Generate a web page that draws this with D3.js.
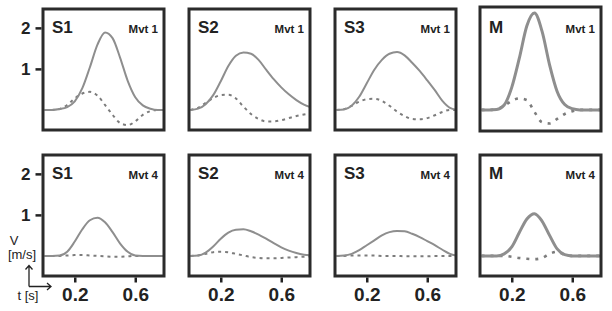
<!DOCTYPE html>
<html>
<head>
<meta charset="utf-8">
<script src="https://cdn.jsdelivr.net/npm/d3@7"></script>
<style>
body { margin: 0; background: #fff; }
svg text { font-family: "Liberation Sans", Arial, Helvetica, sans-serif; }
</style>
</head>
<body>
<div id="chart"></div>
<script>
// sample times (s)
var times = [0, 0.05, 0.1, 0.15, 0.2, 0.25, 0.3, 0.35, 0.4, 0.45, 0.5, 0.55, 0.6, 0.65, 0.7, 0.75, 0.8];
var subjects = ["S1", "S2", "S3", "M"];
var movements = ["Mvt 1", "Mvt 4"];
var yTicks = [1, 2];
var xTicks = [0.2, 0.6];

// Mvt 1 : speed (solid) and dashed trace
var speedMvt1S1 = [0, 0, 0.02, 0.07, 0.21, 0.53, 1.04, 1.59, 1.89, 1.75, 1.27, 0.71, 0.31, 0.11, 0.03, 0, 0];
var speedMvt1S2 = [0, 0.03, 0.14, 0.36, 0.70, 1.07, 1.32, 1.40, 1.37, 1.22, 0.98, 0.75, 0.55, 0.38, 0.24, 0.13, 0.06];
var speedMvt1S3 = [0, 0.01, 0.10, 0.32, 0.65, 0.98, 1.22, 1.37, 1.41, 1.33, 1.15, 0.95, 0.72, 0.48, 0.22, 0.05, 0];
var speedMvt1M  = [0, 0, 0.01, 0.12, 0.55, 1.26, 2.05, 2.36, 1.92, 1.10, 0.45, 0.13, 0.03, 0, 0, 0, 0];
var dashMvt1S1 = [0, 0, 0.02, 0.12, 0.28, 0.40, 0.44, 0.35, 0.12, -0.12, -0.32, -0.37, -0.28, -0.12, -0.03, 0, 0];
var dashMvt1S2 = [0, 0.05, 0.17, 0.29, 0.36, 0.37, 0.28, 0.08, -0.10, -0.22, -0.28, -0.28, -0.25, -0.20, -0.15, -0.11, -0.08];
var dashMvt1S3 = [0, 0.02, 0.10, 0.20, 0.26, 0.27, 0.22, 0.10, -0.04, -0.15, -0.22, -0.23, -0.20, -0.13, -0.05, 0, 0];
var dashMvt1M  = [0, 0, 0.02, 0.10, 0.22, 0.28, 0.24, -0.05, -0.30, -0.33, -0.22, -0.10, -0.03, 0, 0, 0, 0];

// Mvt 4
var speedMvt4S1 = [0, 0, 0.01, 0.10, 0.35, 0.65, 0.87, 0.93, 0.82, 0.58, 0.30, 0.10, 0.01, 0, 0, 0, 0];
var speedMvt4S2 = [0, 0.01, 0.08, 0.23, 0.42, 0.57, 0.64, 0.65, 0.60, 0.52, 0.42, 0.31, 0.21, 0.13, 0.07, 0.03, 0.01];
var speedMvt4S3 = [0, 0.01, 0.05, 0.14, 0.26, 0.38, 0.50, 0.58, 0.61, 0.60, 0.54, 0.46, 0.36, 0.26, 0.15, 0.05, 0];
var speedMvt4M  = [0, 0, 0, 0.05, 0.22, 0.57, 0.90, 1.03, 0.85, 0.50, 0.17, 0.03, 0, 0, 0, 0, 0];
var dashMvt4S1 = [0, 0, 0, 0.01, 0.02, 0.02, 0.01, 0, -0.01, -0.02, -0.02, -0.01, 0, 0, 0, 0, 0];
var dashMvt4S2 = [0, 0.01, 0.05, 0.09, 0.10, 0.09, 0.05, 0.01, -0.03, -0.05, -0.06, -0.06, -0.05, -0.04, -0.03, -0.02, -0.01];
var dashMvt4S3 = [0, 0, 0.01, 0.01, 0.01, 0.01, 0, 0, 0, -0.01, -0.01, -0.01, -0.01, 0, 0, 0, 0];
var dashMvt4M  = [0, 0, 0, 0, -0.02, -0.05, -0.07, -0.08, -0.05, 0.05, 0.10, 0.03, 0, 0, 0, 0, 0];

var speedRows = [[speedMvt1S1, speedMvt1S2, speedMvt1S3, speedMvt1M],
                 [speedMvt4S1, speedMvt4S2, speedMvt4S3, speedMvt4M]];
var dashRows = [[dashMvt1S1, dashMvt1S2, dashMvt1S3, dashMvt1M],
                [dashMvt4S1, dashMvt4S2, dashMvt4S3, dashMvt4M]];

var width = 612, height = 311;
var boxW = 121, boxH = 121;
var colX = [43, 189, 335, 480];
var rowY = [9, 155];

var svg = d3.select("#chart").append("svg")
    .attr("width", width)
    .attr("height", height);

var x = d3.scaleLinear().domain([-0.01, 0.79]).range([0, boxW]);
var y = d3.scaleLinear().domain([-0.49, 2.46]).range([boxH, 0]);

var line = d3.line()
    .x(function(d, i) { return x(times[i]); })
    .y(function(d) { return y(d); })
    .curve(d3.curveMonotoneX);

movements.forEach(function(mvt, r) {
  subjects.forEach(function(subj, c) {
    var isModel = subj === "M";
    // the model panel of the first row is drawn a little taller
    var top = (isModel && r === 0) ? -2 : 0;
    var bottom = (isModel && r === 0) ? boxH + 1 : boxH;

    var g = svg.append("g")
        .attr("transform", "translate(" + colX[c] + "," + rowY[r] + ")");

    var clipId = "clip-" + r + "-" + c;
    g.append("clipPath").attr("id", clipId)
      .append("rect").attr("y", top).attr("width", boxW).attr("height", bottom - top);

    var plot = g.append("g").attr("clip-path", "url(#" + clipId + ")");

    plot.append("path")
        .datum(dashRows[r][c])
        .attr("d", line)
        .attr("fill", "none")
        .attr("stroke", "#7c7c7c")
        .attr("stroke-width", isModel ? 2.6 : 2)
        .attr("stroke-dasharray", isModel ? "3,6" : "3,4");

    plot.append("path")
        .datum(speedRows[r][c])
        .attr("d", line)
        .attr("fill", "none")
        .attr("stroke", "#8e8e8e")
        .attr("stroke-width", isModel ? 3 : 2);

    g.append("rect")
        .attr("y", top)
        .attr("width", boxW).attr("height", bottom - top)
        .attr("fill", "none")
        .attr("stroke", "#2b2b2b")
        .attr("stroke-width", 3);

    g.append("text")
        .attr("x", 9).attr("y", 24)
        .attr("font-size", 17).attr("font-weight", "bold")
        .attr("fill", "#222")
        .text(subj);

    g.append("text")
        .attr("x", boxW - 6).attr("y", 24)
        .attr("text-anchor", "end")
        .attr("font-size", 11.5).attr("font-weight", "bold")
        .attr("fill", "#222")
        .text(mvt);

    if (c === 0) {
      var ya = g.append("g")
          .attr("transform", "translate(-1.5,0)")
          .call(d3.axisLeft(y).tickValues(yTicks).tickSize(6).tickPadding(5).tickFormat(d3.format("d")));
      ya.select(".domain").remove();
      ya.selectAll("line").attr("stroke", "#222").attr("stroke-width", 2.5);
      ya.selectAll("text").attr("font-size", 17).attr("font-weight", "bold").attr("fill", "#222")
        .style("font-family", "Liberation Sans, Arial, sans-serif");
    }

    if (r === 1) {
      var xa = g.append("g")
          .attr("transform", "translate(0," + (boxH + 1.5) + ")")
          .call(d3.axisBottom(x).tickValues(xTicks).tickSize(5).tickPadding(5).tickFormat(d3.format(".1f")));
      xa.select(".domain").remove();
      xa.selectAll("line").attr("stroke", "#222").attr("stroke-width", 2.5);
      xa.selectAll("text").attr("font-size", 19).attr("font-weight", "bold").attr("fill", "#222")
        .style("font-family", "Liberation Sans, Arial, sans-serif");
    }
  });
});

// units legend bottom-left
var leg = svg.append("g");
leg.append("text").attr("x", 14).attr("y", 245).attr("text-anchor", "middle")
   .attr("font-size", 13).attr("fill", "#222").text("V");
leg.append("text").attr("x", 22).attr("y", 259).attr("text-anchor", "middle")
   .attr("font-size", 13).attr("fill", "#222").text("[m/s]");
leg.append("text").attr("x", 28).attr("y", 300).attr("text-anchor", "middle")
   .attr("font-size", 13).attr("fill", "#222").text("t [s]");
leg.append("path")
   .attr("d", "M29,286.5 V265.5 M25.5,269.5 L29,265.5 L32.5,269.5 M29,286.5 H51 M47,283 L51,286.5 L47,290")
   .attr("fill", "none").attr("stroke", "#222").attr("stroke-width", 1.3);
</script>
</body>
</html>
